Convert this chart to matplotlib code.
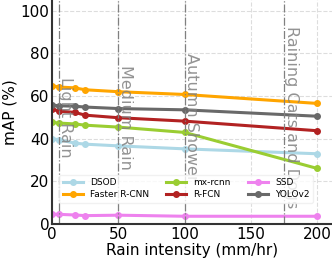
import matplotlib
matplotlib.use("Agg")
import matplotlib.pyplot as plt

# rain intensity (mm/hr) sampled
rain = [0, 5, 17, 25, 50, 100, 200]

# mAP (%) per detector
models = ["DSOD", "Faster R-CNN", "mx-rcnn", "R-FCN", "SSD", "YOLOv2"]
dsod = [39.9, 39.5, 37.9, 37.4, 36.6, 35.2, 32.9]
faster_rcnn = [64.8, 64.2, 63.8, 62.9, 62.0, 60.7, 56.5]
mx_rcnn = [47.6, 47.3, 46.9, 46.3, 45.4, 42.9, 26.0]
rfcn = [53.8, 52.9, 52.3, 51.0, 49.8, 48.2, 43.7]
ssd = [4.5, 4.5, 4.2, 3.9, 4.1, 3.6, 3.6]
yolov2 = [55.7, 55.4, 55.2, 54.8, 54.1, 53.5, 50.5]
series = [dsod, faster_rcnn, mx_rcnn, rfcn, ssd, yolov2]
colors = ["lightblue", "orange", "yellowgreen", "firebrick", "violet", "dimgray"]

# rain categories marked on the plot
cat_x = [5, 50, 100, 175]
cat_names = ["Light Rain", "Medium Rain", "Autumn Shower", "Raining Cats and Dogs"]

fig = plt.figure(figsize=(3.32, 2.61), dpi=100)
ax = fig.add_axes([0.157, 0.142, 0.843, 0.858])

for name, vals, c in zip(models, series, colors):
    ax.plot(rain, vals, "-o", color=c, lw=2.2, ms=4, label=name)

for xv, nm in zip(cat_x, cat_names):
    ax.axvline(xv, color="gray", ls="-.", lw=0.9)
    ax.text(xv - 0.3, 50, nm, rotation=270, ha="left", va="center",
            color="gray", fontsize=11.5, alpha=0.85)

ax.set_xlim(0, 211)
ax.set_ylim(0, 105)
ax.set_xticks([0, 50, 100, 150, 200])
ax.set_yticks([0, 20, 40, 60, 80, 100])
ax.tick_params(labelsize=11, length=0, pad=2)
ax.grid(True, ls="--", color="#dddddd", lw=0.8)
ax.set_axisbelow(True)
for s in ["top", "right"]:
    ax.spines[s].set_visible(False)
for s in ["left", "bottom"]:
    ax.spines[s].set_color("#333333")
    ax.spines[s].set_linewidth(1.5)

ax.set_xlabel("Rain intensity (mm/hr)", fontsize=11, labelpad=1)
ax.set_ylabel("mAP (%)", fontsize=11, labelpad=2)

ax.legend(ncol=3, fontsize=6.5, loc="lower left", bbox_to_anchor=(0.01, 0.075),
          frameon=True, framealpha=0.8, edgecolor="#eeeeee",
          handlelength=2.2, columnspacing=1.9, borderpad=0.4, labelspacing=0.3)

fig.savefig("out.png", dpi=100)
